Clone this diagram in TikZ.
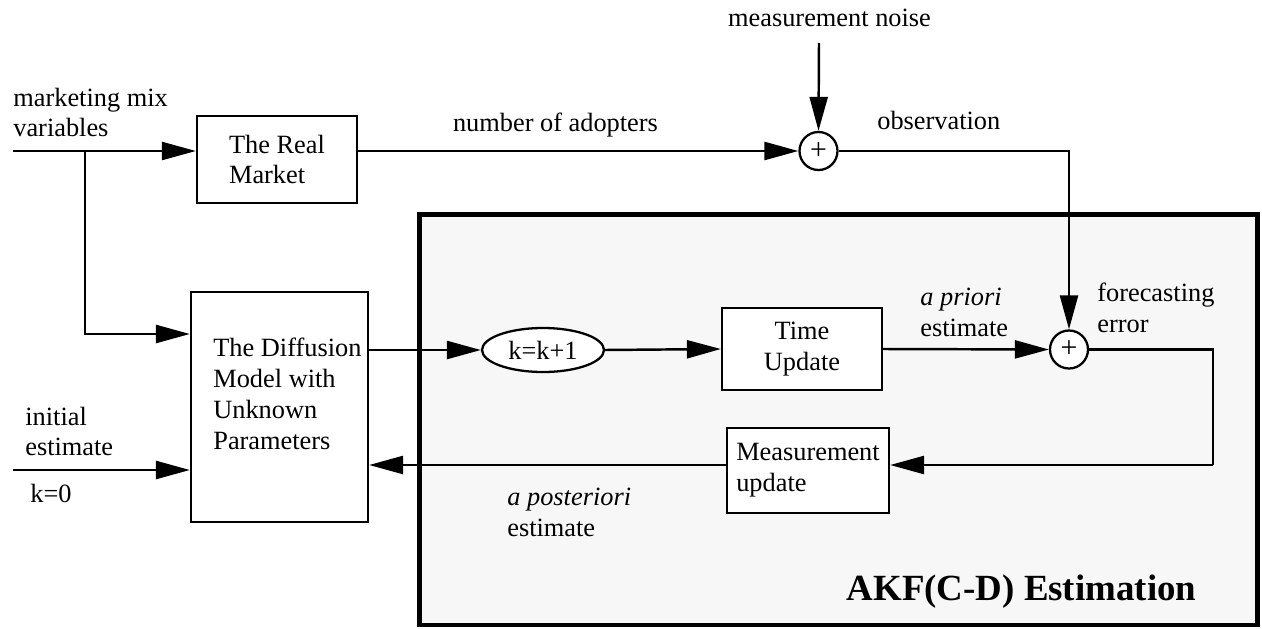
\documentclass[tikz,border=0pt]{standalone}
\usepackage{fontspec}
\setmainfont{Liberation Serif}
\usepackage{xcolor}
\usetikzlibrary{arrows.meta, positioning, shapes.geometric, calc}

\definecolor{panelgray}{RGB}{247,247,247}
\tikzset{
  txt/.style={font=\fontsize{15}{17.6}\selectfont},
  lbl/.style={txt, inner sep=0pt, align=left},
  blockbox/.style={draw, line width=1.3pt, fill=white, txt, inner sep=0pt},
  sumnode/.style={draw, circle, line width=1.3pt, fill=white, minimum size=0.76cm,
    inner sep=0pt, font=\fontsize{17}{17}\selectfont},
  wire/.style={line width=1.4pt},
  flow/.style={wire, -{Triangle[length=0.68cm,width=0.36cm]}}
}

\begin{document}
\begin{tikzpicture}[x=0.02cm, y=-0.02cm]
  \useasboundingbox (0,0) rectangle (1262,629);

  % Estimation panel
  \node[draw, line width=2.8pt, fill=panelgray, minimum width=16.78cm,
    minimum height=8.22cm, inner sep=0pt] (panel) at (838.5,419.5) {};
  \node[font=\bfseries\fontsize{21}{24}\selectfont, inner sep=0pt, anchor=base]
    (akf) at (1021.5,600) {AKF(C-D) Estimation};

  % Blocks
  \node[blockbox, align=left, minimum width=3.2cm, minimum height=1.74cm]
    (market) at (277,159.5) {The Real\\Market};
  \node[blockbox, minimum width=3.54cm, minimum height=4.6cm] (diffusion) at (279.5,407) {};
  \node[lbl, anchor=west] (difftext) at (213,394)
    {The Diffusion\\Model with\\Unknown\\Parameters};
  \node[draw, ellipse, line width=1.3pt, fill=white, txt, minimum width=2.44cm,
    minimum height=0.88cm, inner sep=0pt] (kstep) at (543,350) {k=k+1};
  \node[blockbox, align=center, minimum width=3.2cm, minimum height=1.64cm]
    (timeupd) at (802,349) {Time\\Update};
  \node[blockbox, align=left, minimum width=3.24cm, minimum height=1.7cm]
    (measupd) at (808,470.5) {Measurement\\update};

  % Summing junctions
  \node[sumnode] (sumobs) at (818.5,151) {\raisebox{-2pt}{+}};
  \node[sumnode] (sumerr) at (1069,349.5) {\raisebox{-2pt}{+}};

  % Free ends
  \coordinate (mixin) at (13,151);
  \coordinate (mixsplit) at (85,151);
  \coordinate (mixdown) at (85,334);
  \coordinate (initin) at (13,470);
  \coordinate (noisein) at (819,43);
  \coordinate (errturn) at (1213,465);

  % Connectors
  \draw[flow] (mixin) -- (market.west |- mixin);
  \draw[flow] (mixsplit) -- (mixdown) -- (diffusion.west |- mixdown);
  \draw[flow] (initin) -- (diffusion.west |- initin);
  \draw[flow] (market.east |- sumobs) -- (sumobs.west);
  \draw[flow] (noisein) -- (sumobs.north);
  \draw[flow] (sumobs.east) -| (sumerr.north);
  \draw[flow] (diffusion.east |- kstep) -- (kstep.west);
  \draw[flow] (kstep.east) -- (timeupd.west);
  \draw[flow] (timeupd.east) -- (sumerr.west);
  \draw[wire] (sumerr.east) -| (errturn);
  \draw[flow] (errturn) -- (measupd.east |- errturn);
  \draw[flow] (measupd.west |- errturn) -- (diffusion.east |- errturn);

  % Labels
  \node[lbl, anchor=west] (mixlbl) at (13,112.5) {marketing mix\\variables};
  \node[lbl, anchor=west] (initlbl) at (25,431.5) {initial\\estimate};
  \node[lbl, anchor=west] (k0lbl) at (30,493) {k=0};
  \node[lbl] (adoptlbl) at (555.5,125) {number of adopters};
  \node[lbl] (noiselbl) at (829.5,18) {measurement noise};
  \node[lbl, anchor=west] (obslbl) at (877,120) {observation};
  \node[lbl, anchor=west] (priorlbl) at (920,312.5) {\textit{a priori}\\estimate};
  \node[lbl, anchor=west] (fcerrlbl) at (1097,307.5) {forecasting\\error};
  \node[lbl, anchor=west] (postlbl) at (507,512) {\textit{a posteriori}\\estimate};
\end{tikzpicture}
\end{document}
